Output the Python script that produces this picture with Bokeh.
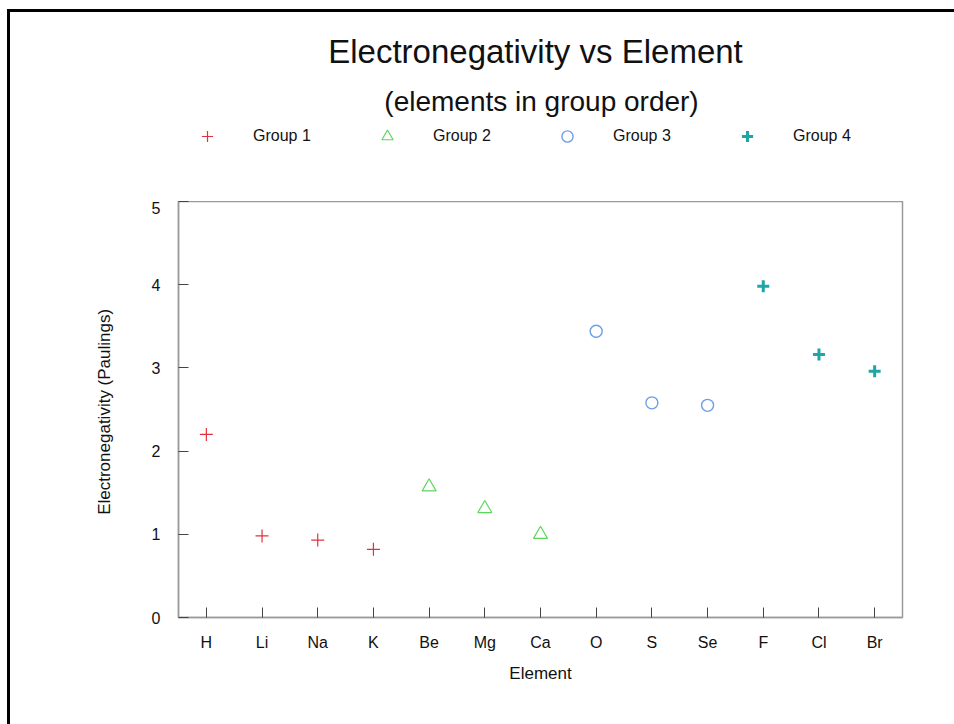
from bokeh.plotting import figure
from bokeh.layouts import column
from bokeh.models import FactorRange, Range1d, FixedTicker, Legend, LegendItem, Label
from bokeh.embed import file_html
from bokeh.resources import INLINE

# ---- data ----
elements = ["H", "Li", "Na", "K", "Be", "Mg", "Ca", "O", "S", "Se", "F", "Cl", "Br"]
group1_elements = ["H", "Li", "Na", "K"]
group1_values = [2.20, 0.98, 0.93, 0.82]
group2_elements = ["Be", "Mg", "Ca"]
group2_values = [1.57, 1.31, 1.00]
group3_elements = ["O", "S", "Se"]
group3_values = [3.44, 2.58, 2.55]
group4_elements = ["F", "Cl", "Br"]
group4_values = [3.98, 3.16, 2.96]
group_names = ["Group 1", "Group 2", "Group 3", "Group 4"]
y_ticks = [0, 1, 2, 3, 4, 5]

group_elements = [group1_elements, group2_elements, group3_elements, group4_elements]
group_values = [group1_values, group2_values, group3_values, group4_values]

FONT = "Liberation Sans"
TXT = "#111111"
STYLES = [
    dict(marker="cross", size=13, line_color="#e4303c", line_width=1.2),
    dict(marker="triangle", size=14, line_color="#5ed65e", fill_color=None, line_width=1.2),
    dict(marker="circle", size=12, line_color="#6d9ee6", fill_color=None, line_width=1.4),
    dict(marker="cross", size=12, line_color="#1ea6a6", line_width=3),
]

W = 944                 # canvas width (page x 10..954)
HEAD_H = 189            # header canvas: page y 12..201
MAIN_H = 523            # main canvas: page y 201..724
FL, FR, FB = 168, 892, 416  # frame edges inside the main canvas

# ---------- header: title, subtitle, legend (frame aligned with the chart's) ----------
head = figure(width=W, height=HEAD_H, x_range=Range1d(FL, FR), y_range=Range1d(HEAD_H, 0),
              x_axis_type=None, y_axis_type=None, output_backend="svg",
              toolbar_location=None, min_border=0, outline_line_color=None,
              background_fill_color="white", border_fill_color="white")
head.title.visible = False
head.xgrid.visible = False
head.ygrid.visible = False

head.add_layout(Label(x=525, y=39, text="Electronegativity vs Element",
                      text_align="center", text_baseline="middle", text_font=FONT,
                      text_font_size="33px", text_color=TXT))
head.add_layout(Label(x=531, y=89, text="(elements in group order)",
                      text_align="center", text_baseline="middle", text_font=FONT,
                      text_font_size="28px", text_color=TXT))

# key renderers carry the group values; they fall outside the header's view
key_renderers = [head.scatter(x=vals, y=vals, **st) for vals, st in zip(group_values, STYLES)]
legend = Legend(items=[LegendItem(label=n, renderers=[r]) for n, r in zip(group_names, key_renderers)],
                location=(15, 51), orientation="horizontal",
                glyph_width=28, glyph_height=28, label_standoff=32, label_width=90,
                label_height=20, spacing=30, padding=0, margin=0, border_line_color=None,
                background_fill_alpha=0, label_text_font=FONT, label_text_font_size="16px",
                label_text_color=TXT)
head.add_layout(legend, "center")

# ---------- main chart ----------
p = figure(width=W, height=MAIN_H, x_range=FactorRange(factors=elements),
           y_range=Range1d(0, 5), output_backend="svg", toolbar_location=None,
           min_border_left=FL, min_border_right=W - FR,
           min_border_top=0, min_border_bottom=MAIN_H - FB,
           background_fill_color="white", border_fill_color="white")
p.title.visible = False
p.xgrid.visible = False
p.ygrid.visible = False
p.outline_line_color = "#9a9a9a"
p.outline_line_width = 1.5

for ax in (p.xaxis[0], p.yaxis[0]):
    ax.axis_line_color = "#9a9a9a"
    ax.axis_line_width = 1.5
    ax.major_tick_in = 10
    ax.major_tick_out = 0
    ax.major_tick_line_color = "#444444"
    ax.minor_tick_line_color = None
    ax.major_label_text_font = FONT
    ax.major_label_text_font_size = "16px"
    ax.major_label_text_color = TXT
    ax.axis_label_text_font = FONT
    ax.axis_label_text_font_size = "17px"
    ax.axis_label_text_font_style = "normal"
    ax.axis_label_text_color = TXT

p.yaxis.ticker = FixedTicker(ticks=y_ticks)
p.yaxis.major_label_standoff = 18
p.yaxis.axis_label = "Electronegativity  (Paulings)"
p.yaxis.axis_label_standoff = 35
p.xaxis.major_label_standoff = 16
p.xaxis.axis_label = "Element"
p.xaxis.axis_label_standoff = 10

for xs, ys, st in zip(group_elements, group_values, STYLES):
    p.scatter(xs, ys, **st)

layout = column(head, p, spacing=0)
layout.styles = {"border-top": "3px solid black", "border-left": "3px solid black",
                 "margin-left": "7px", "margin-top": "9px"}

open("out.html", "w").write(file_html(layout, INLINE))
